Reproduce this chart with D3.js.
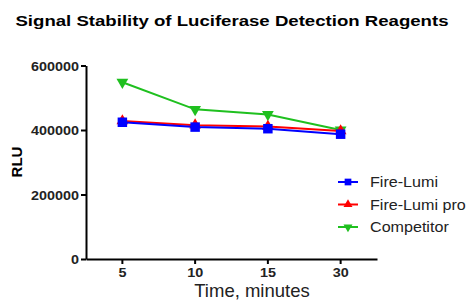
<!DOCTYPE html>
<html>
<head>
<meta charset="utf-8">
<script src="https://cdn.jsdelivr.net/npm/d3@7"></script>
<style>
  body { margin: 0; background: #fff; }
  svg { display: block; font-family: Arial, "Liberation Sans", sans-serif; }
</style>
</head>
<body>
<div id="chart"></div>
<script>
// Datos
const times       = ['5', '10', '15', '30'];
const fireLumi    = [424000, 409000, 404000, 387000];
const fireLumiPro = [428000, 415000, 411000, 397000];
const competitor  = [548000, 464000, 448000, 400000];
const yTicks      = [0, 200000, 400000, 600000];

const series = [
    { name: 'Fire-Lumi',     values: fireLumi,    color: '#0000ff', symbol: d3.symbolSquare,   rot: 0 },
    { name: 'Fire-Lumi pro', values: fireLumiPro, color: '#ff0000', symbol: d3.symbolTriangle, rot: 0 },
    { name: 'Competitor',    values: competitor,  color: '#1fc01f', symbol: d3.symbolTriangle, rot: 180 }
];

const W = 468, H = 304;
const mLeft = 86, mRight = 377, mTop = 65.5, mBottom = 259;

const svg = d3.select('#chart').append('svg')
    .attr('width', W).attr('height', H);

// el original está algo estirado en horizontal
const stretch = (sel, k) => sel.each(function() {
    const w = this.getComputedTextLength();
    d3.select(this).attr('textLength', w * k).attr('lengthAdjust', 'spacingAndGlyphs');
});

const x = d3.scaleBand().domain(times).range([mLeft, mRight]);
const y = d3.scaleLinear().domain([0, 600000]).range([mBottom, mTop]);
const cx = t => x(t) + x.bandwidth() / 2;

// Título
svg.append('text')
    .attr('x', 232).attr('y', 26)
    .attr('text-anchor', 'middle')
    .style('font-size', '15.5px').style('font-weight', 'bold')
    .text('Signal Stability of Luciferase Detection Reagents')
    .call(stretch, 1.2);

// Ejes
const yAxis = svg.append('g')
    .attr('transform', `translate(${mLeft},0)`)
    .call(d3.axisLeft(y).tickValues(yTicks).tickSize(5).tickSizeOuter(0).tickFormat(d3.format('d')));
const xAxis = svg.append('g')
    .attr('transform', `translate(0,${mBottom})`)
    .call(d3.axisBottom(x).tickSize(5).tickSizeOuter(0));

[yAxis, xAxis].forEach(a => {
    a.select('.domain').attr('stroke', '#000').attr('stroke-width', 2);
    a.selectAll('.tick line').attr('stroke', '#000').attr('stroke-width', 2);
    a.selectAll('.tick text')
        .style('font-family', 'Arial, "Liberation Sans", sans-serif')
        .style('font-size', '12.5px').style('font-weight', 'bold').attr('fill', '#222')
        .call(stretch, 1.15);
});
yAxis.selectAll('.tick text').attr('x', -7).attr('dy', '0.36em');
xAxis.selectAll('.tick text').attr('y', 9);

// Etiquetas de ejes
svg.append('text')
    .attr('transform', 'translate(22,162) rotate(-90)')
    .attr('text-anchor', 'middle')
    .style('font-size', '15px').style('font-weight', 'bold')
    .text('RLU');

svg.append('text')
    .attr('x', 252).attr('y', 297)
    .attr('text-anchor', 'middle')
    .style('font-size', '18.5px').attr('fill', '#222')
    .text('Time, minutes');

const mark = (px, py, s, size) => {
    svg.append('path')
        .attr('d', d3.symbol(s.symbol, size)())
        .attr('transform', `translate(${px},${py}) rotate(${s.rot})`)
        .attr('fill', s.color);
};

const line = d3.line().x((d, i) => cx(times[i])).y(d => y(d));

// Series (verde abajo, azul arriba)
[...series].reverse().forEach(s => {
    svg.append('path')
        .attr('d', line(s.values))
        .attr('fill', 'none').attr('stroke', s.color).attr('stroke-width', 2);
    s.values.forEach((v, i) => {
        mark(cx(times[i]), y(v), s, s.symbol === d3.symbolSquare ? 90 : 60);
    });
});

// Leyenda
series.forEach((s, i) => {
    const ly = 182 + i * 22.5;
    svg.append('line')
        .attr('x1', 338).attr('x2', 358).attr('y1', ly).attr('y2', ly)
        .attr('stroke', s.color).attr('stroke-width', 2);
    mark(348, ly, s, s.symbol === d3.symbolSquare ? 45 : 35);
    svg.append('text')
        .attr('x', 370).attr('y', ly + 5)
        .style('font-size', '14px').attr('fill', '#222')
        .text(s.name)
        .call(stretch, 1.15);
});
</script>
</body>
</html>
